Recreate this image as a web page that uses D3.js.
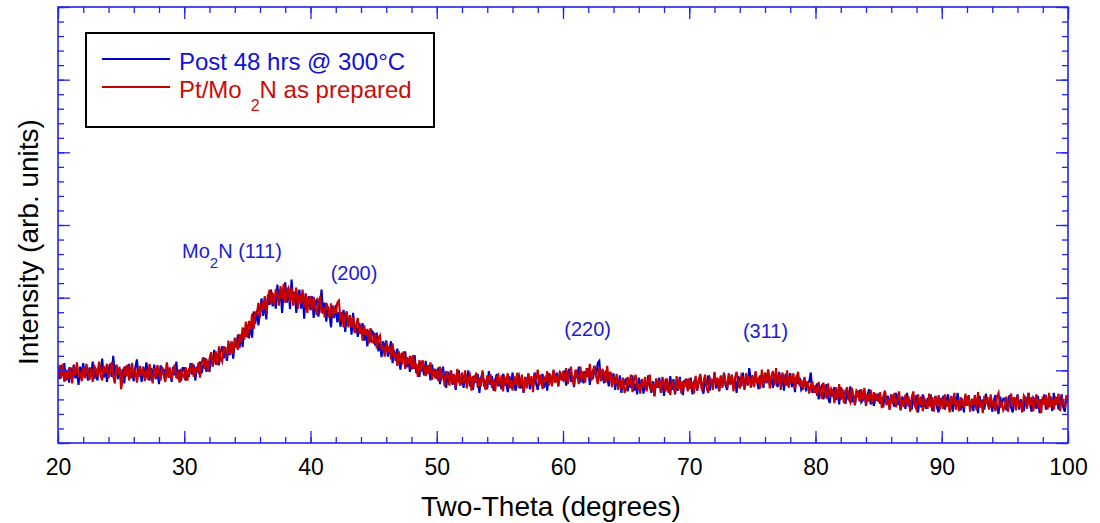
<!DOCTYPE html>
<html>
<head>
<meta charset="utf-8">
<script src="https://cdn.jsdelivr.net/npm/d3@7"></script>
<style>
  html, body { margin: 0; padding: 0; background: #ffffff; }
  svg { display: block; }
  text { font-family: "Liberation Sans", Arial, Helvetica, sans-serif; }
</style>
</head>
<body>
<svg id="chart" width="1100" height="523"></svg>
<script>
// XRD scan: 2-theta from 20 to 100 degrees, 0.125 degree step (one row = 5 degrees)
const twoThetaStart = 20;
const twoThetaStep = 0.125;

// Pt/Mo2N after 48 hrs at 300 °C (counts, arb.)
const postAnneal = [
  101, 88, 107, 93, 110, 86, 98, 83, 104, 91, 108, 89, 100, 80, 105, 95, 110, 91, 100, 86, 104, 93, 112, 88, 99, 86, 108, 96, 116, 90, 104, 84, 101, 109, 91, 120, 93, 107, 88, 102,
  87, 102, 82, 106, 93, 109, 89, 98, 85, 104, 115, 91, 100, 84, 105, 90, 111, 94, 86, 103, 92, 108, 88, 99, 81, 107, 95, 102, 87, 110, 90, 98, 84, 105, 93, 112, 88, 101, 85, 103,
  103, 86, 100, 91, 110, 94, 108, 86, 105, 99, 112, 96, 106, 117, 98, 113, 98, 119, 109, 128, 108, 118, 107, 125, 133, 116, 132, 113, 129, 121, 140, 116, 139, 132, 149, 131, 147, 132, 158, 146,
  163, 144, 164, 145, 181, 164, 183, 162, 182, 199, 175, 194, 170, 204, 190, 211, 188, 201, 185, 218, 194, 212, 179, 208, 221, 193, 214, 184, 225, 194, 208, 179, 202, 211, 185, 204, 171, 206, 186, 202,
  183, 202, 172, 194, 197, 174, 189, 211, 178, 193, 167, 188, 178, 159, 189, 172, 190, 166, 180, 160, 173, 183, 153, 175, 162, 176, 149, 179, 153, 162, 146, 165, 151, 165, 141, 155, 133, 155, 139, 154,
  151, 134, 152, 126, 139, 118, 140, 128, 141, 119, 128, 140, 110, 128, 113, 130, 113, 101, 124, 112, 126, 104, 116, 98, 119, 102, 121, 96, 108, 91, 112, 104, 93, 113, 95, 107, 86, 108, 94, 102,
  88, 104, 81, 97, 105, 86, 76, 98, 87, 100, 80, 94, 73, 91, 100, 81, 88, 76, 96, 82, 100, 78, 91, 73, 93, 83, 95, 69, 89, 97, 78, 87, 74, 99, 80, 92, 72, 87, 95, 78,
  89, 74, 95, 79, 85, 70, 92, 76, 97, 81, 72, 88, 93, 75, 86, 69, 91, 79, 95, 74, 88, 78, 97, 81, 73, 93, 84, 95, 76, 91, 72, 96, 90, 81, 100, 84, 97, 78, 96, 91,
  87, 100, 79, 96, 102, 84, 93, 77, 100, 89, 105, 83, 96, 82, 99, 91, 103, 80, 98, 88, 106, 91, 110, 113, 85, 99, 82, 96, 91, 78, 98, 84, 96, 73, 89, 77, 93, 69, 89, 80,
  89, 71, 85, 76, 93, 72, 82, 67, 90, 76, 88, 68, 85, 73, 93, 78, 69, 85, 64, 88, 76, 90, 71, 83, 65, 85, 80, 69, 92, 73, 88, 67, 82, 72, 91, 75, 66, 87, 78, 88,
  74, 90, 67, 84, 89, 72, 83, 93, 75, 68, 88, 79, 93, 72, 87, 81, 96, 75, 86, 71, 92, 78, 97, 79, 73, 91, 82, 94, 75, 88, 69, 92, 87, 78, 97, 75, 90, 79, 103, 88,
  91, 78, 97, 83, 74, 93, 87, 76, 96, 82, 101, 80, 90, 76, 95, 85, 77, 98, 82, 92, 72, 95, 79, 87, 96, 77, 89, 70, 93, 81, 90, 73, 76, 89, 71, 83, 84, 97, 69, 78,
  69, 82, 60, 75, 79, 60, 71, 81, 62, 55, 73, 64, 77, 59, 73, 53, 77, 64, 69, 54, 72, 59, 78, 56, 66, 52, 72, 63, 73, 56, 59, 72, 51, 67, 74, 53, 62, 51, 68, 58,
  68, 54, 63, 49, 71, 55, 65, 46, 67, 56, 50, 69, 52, 61, 45, 64, 57, 47, 69, 50, 59, 46, 64, 53, 66, 42, 61, 49, 67, 55, 47, 62, 51, 67, 44, 57, 64, 49, 42, 62,
  52, 65, 46, 59, 67, 48, 56, 43, 63, 50, 69, 53, 45, 61, 42, 64, 51, 66, 47, 58, 44, 62, 57, 41, 65, 49, 60, 46, 68, 54, 48, 63, 43, 59, 66, 50, 40, 64, 52, 61,
  61, 45, 57, 66, 48, 42, 63, 51, 67, 46, 60, 54, 44, 64, 49, 69, 52, 43, 62, 58, 47, 65, 41, 60, 53, 67, 46, 59, 49, 64, 44, 69, 52, 63, 46, 57, 67, 49, 43, 62,
  56
];

// Pt/Mo2N as prepared (counts, arb.)
const asPrepared = [
  92, 107, 89, 109, 84, 101, 87, 104, 97, 82, 106, 93, 111, 90, 98, 85, 104, 89, 109, 96, 87, 103, 84, 106, 102, 91, 112, 93, 86, 106, 96, 109, 89, 101, 111, 92, 82, 108, 94, 105,
  74, 88, 105, 91, 108, 86, 99, 110, 89, 102, 83, 97, 106, 92, 104, 85, 101, 87, 109, 94, 82, 103, 90, 107, 98, 86, 105, 93, 84, 111, 91, 104, 87, 100, 108, 89, 97, 83, 102, 94,
  90, 104, 86, 101, 99, 110, 91, 104, 97, 111, 90, 111, 118, 102, 116, 99, 116, 125, 105, 116, 126, 107, 133, 117, 112, 133, 126, 118, 141, 122, 139, 123, 145, 136, 128, 150, 138, 159, 142, 167,
  145, 168, 156, 178, 157, 179, 177, 193, 173, 194, 183, 202, 178, 200, 211, 191, 207, 189, 212, 204, 189, 216, 198, 219, 193, 208, 213, 194, 214, 189, 201, 214, 185, 206, 192, 211, 187, 205, 179, 198,
  200, 183, 201, 186, 176, 195, 200, 179, 187, 173, 193, 186, 172, 192, 174, 184, 178, 193, 196, 167, 180, 159, 175, 181, 159, 175, 160, 174, 151, 163, 172, 150, 162, 141, 162, 148, 157, 137, 158, 139,
  138, 151, 130, 144, 148, 128, 134, 119, 139, 125, 134, 115, 137, 117, 124, 106, 126, 117, 108, 126, 102, 118, 109, 120, 101, 121, 102, 109, 91, 114, 98, 114, 104, 92, 107, 96, 111, 87, 102, 89,
  101, 85, 105, 89, 94, 78, 99, 93, 79, 100, 83, 95, 76, 102, 85, 79, 97, 82, 100, 75, 90, 94, 72, 92, 84, 97, 76, 90, 78, 100, 81, 73, 93, 83, 95, 76, 87, 71, 91, 94,
  78, 93, 71, 90, 85, 96, 75, 87, 72, 92, 80, 97, 76, 84, 94, 70, 90, 75, 96, 80, 92, 70, 94, 87, 101, 79, 94, 74, 90, 85, 99, 79, 95, 78, 101, 83, 93, 78, 99, 86,
  99, 85, 103, 81, 95, 105, 88, 79, 101, 94, 81, 105, 87, 99, 83, 103, 90, 109, 86, 100, 106, 92, 81, 104, 86, 102, 96, 83, 106, 86, 98, 77, 92, 81, 95, 73, 87, 74, 90, 69,
  75, 91, 79, 94, 70, 86, 94, 75, 82, 68, 88, 76, 91, 71, 86, 94, 71, 82, 66, 89, 77, 86, 69, 91, 82, 71, 89, 75, 66, 86, 79, 69, 92, 74, 88, 68, 85, 77, 89, 71,
  89, 75, 83, 68, 92, 73, 87, 95, 72, 84, 94, 76, 69, 90, 86, 73, 98, 80, 90, 72, 93, 76, 96, 84, 76, 96, 80, 93, 71, 90, 98, 82, 75, 93, 88, 73, 96, 80, 92, 76,
  93, 77, 99, 82, 88, 75, 101, 80, 97, 84, 101, 75, 92, 99, 79, 103, 81, 95, 73, 97, 89, 79, 100, 76, 93, 83, 96, 75, 90, 98, 78, 87, 73, 91, 76, 85, 68, 79, 85, 69,
  80, 65, 84, 69, 61, 83, 72, 61, 82, 64, 75, 71, 55, 77, 61, 81, 59, 75, 55, 70, 77, 61, 56, 76, 66, 52, 72, 69, 57, 74, 60, 76, 52, 68, 57, 73, 54, 70, 59, 65,
  56, 70, 48, 65, 72, 52, 60, 46, 67, 55, 69, 49, 62, 71, 46, 60, 50, 67, 54, 64, 43, 63, 71, 51, 46, 67, 52, 64, 44, 61, 56, 47, 68, 49, 63, 43, 65, 51, 66, 46,
  62, 47, 67, 50, 58, 42, 65, 53, 69, 46, 60, 44, 63, 56, 48, 68, 51, 64, 43, 61, 52, 66, 45, 70, 49, 59, 41, 65, 54, 63, 46, 67, 50, 58, 44, 64, 69, 48, 57, 45,
  49, 64, 43, 59, 68, 52, 62, 45, 66, 50, 57, 42, 65, 61, 47, 69, 51, 63, 44, 58, 67, 48, 60, 41, 64, 53, 66, 46, 69, 50, 60, 46, 64, 53, 68, 44, 62, 57, 48, 66,
  57
];

const xTickValues = [20, 30, 40, 50, 60, 70, 80, 90, 100];
const seriesNames = ["Post 48 hrs @ 300°C", "Pt/Mo", "2", "N as prepared"];

// Reflection labels: [position in degrees, intensity level, text]
const peakLabels = [
  { theta: 41.6, level: 224, text: "(200)" },
  { theta: 60.1, level: 147, text: "(220)" },
  { theta: 74.25, level: 144, text: "(311)" }
];

const colors = { post: "#0000cc", prep: "#c80000", axis: "#2323ee", label: "#1c1cd0" };

const svg = d3.select("#chart");
const margin = { left: 58, right: 32, top: 7, bottom: 80 };
const W = 1100, H = 523;
const plotW = W - margin.left - margin.right;
const plotH = H - margin.top - margin.bottom;

const x = d3.scaleLinear().domain([20, 100]).range([margin.left, margin.left + plotW]);
const y = d3.scaleLinear().domain([0, 600]).range([margin.top + plotH, margin.top]);

const toPoints = arr => arr.map((v, i) => [twoThetaStart + i * twoThetaStep, v]);

svg.append("clipPath").attr("id", "plotClip")
  .append("rect")
  .attr("x", margin.left).attr("y", margin.top)
  .attr("width", plotW).attr("height", plotH);

const line = d3.line().x(d => x(d[0])).y(d => y(d[1]));

const traces = svg.append("g").attr("clip-path", "url(#plotClip)");
traces.append("path")
  .attr("d", line(toPoints(postAnneal)))
  .attr("fill", "none").attr("stroke", colors.post)
  .attr("stroke-width", 2.1).attr("stroke-linejoin", "miter");
traces.append("path")
  .attr("d", line(toPoints(asPrepared)))
  .attr("fill", "none").attr("stroke", colors.prep)
  .attr("stroke-width", 2.1).attr("stroke-linejoin", "miter");

// Axes with inward ticks on all four sides
const xMinor = d3.range(20, 100.001, 2);
const yMinor = d3.range(0, 600.001, 20);
const yMajor = d3.range(0, 600.001, 100);

function styleAxis(g) {
  g.selectAll("path.domain").remove();
  g.selectAll(".tick line").attr("stroke", colors.axis).attr("stroke-width", 1.3);
}

const bottomMinor = svg.append("g").attr("transform", `translate(0,${y(0)})`)
  .call(d3.axisBottom(x).tickValues(xMinor).tickSize(-6).tickFormat(""));
styleAxis(bottomMinor);
const bottomMajor = svg.append("g").attr("transform", `translate(0,${y(0)})`)
  .call(d3.axisBottom(x).tickValues(xTickValues).tickSize(-12).tickFormat(d3.format("d")));
styleAxis(bottomMajor);
bottomMajor.selectAll(".tick text")
  .attr("fill", "#000").attr("font-size", 23).attr("dy", "0.71em")
  .attr("y", 16);

const topMinor = svg.append("g").attr("transform", `translate(0,${y(600)})`)
  .call(d3.axisTop(x).tickValues(xMinor).tickSize(-6).tickFormat(""));
styleAxis(topMinor);
const topMajor = svg.append("g").attr("transform", `translate(0,${y(600)})`)
  .call(d3.axisTop(x).tickValues(xTickValues).tickSize(-12).tickFormat(""));
styleAxis(topMajor);

[[d3.axisLeft, x(20)], [d3.axisRight, x(100)]].forEach(([axisFn, pos]) => {
  const gMin = svg.append("g").attr("transform", `translate(${pos},0)`)
    .call(axisFn(y).tickValues(yMinor).tickSize(-6).tickFormat(""));
  styleAxis(gMin);
  const gMaj = svg.append("g").attr("transform", `translate(${pos},0)`)
    .call(axisFn(y).tickValues(yMajor).tickSize(-12).tickFormat(""));
  styleAxis(gMaj);
});

// Plot frame
svg.append("rect")
  .attr("x", margin.left).attr("y", margin.top)
  .attr("width", plotW).attr("height", plotH)
  .attr("fill", "none").attr("stroke", colors.axis).attr("stroke-width", 1.6);

// Axis titles
svg.append("text")
  .attr("x", 551).attr("y", 516)
  .attr("text-anchor", "middle").attr("font-size", 28).attr("fill", "#000")
  .text("Two-Theta (degrees)");
svg.append("text")
  .attr("transform", "translate(38,242) rotate(-90)")
  .attr("text-anchor", "middle").attr("font-size", 28).attr("fill", "#000")
  .text("Intensity (arb. units)");

// Legend
const legend = svg.append("g");
legend.append("rect")
  .attr("x", 86).attr("y", 33).attr("width", 348).attr("height", 94)
  .attr("fill", "#fff").attr("stroke", "#000").attr("stroke-width", 2);
legend.append("line")
  .attr("x1", 102).attr("x2", 170).attr("y1", 59).attr("y2", 59)
  .attr("stroke", colors.post).attr("stroke-width", 2);
legend.append("line")
  .attr("x1", 102).attr("x2", 170).attr("y1", 87).attr("y2", 87)
  .attr("stroke", colors.prep).attr("stroke-width", 2);
legend.append("text")
  .attr("x", 179).attr("y", 70).attr("font-size", 24).attr("fill", "#1010d8")
  .text(seriesNames[0]);
const prepText = legend.append("text")
  .attr("x", 179).attr("y", 98).attr("font-size", 24).attr("fill", "#cc0a0a");
prepText.append("tspan").text(seriesNames[1]);
prepText.append("tspan").attr("dx", 9).attr("dy", 13).attr("font-size", 16).text(seriesNames[2]);
prepText.append("tspan").attr("dy", -13).text(seriesNames[3]);

// Reflection labels
const moLabel = svg.append("text")
  .attr("x", 182).attr("y", 258).attr("font-size", 20).attr("fill", colors.label);
moLabel.append("tspan").text("Mo");
moLabel.append("tspan").attr("dy", 10).attr("font-size", 15).text("2");
moLabel.append("tspan").attr("dy", -10).text("N (111)");

svg.selectAll("text.peak")
  .data(peakLabels)
  .enter().append("text")
  .attr("class", "peak")
  .attr("x", d => x(d.theta))
  .attr("y", d => y(d.level))
  .attr("font-size", 20)
  .attr("fill", colors.label)
  .text(d => d.text);
</script>
</body>
</html>
